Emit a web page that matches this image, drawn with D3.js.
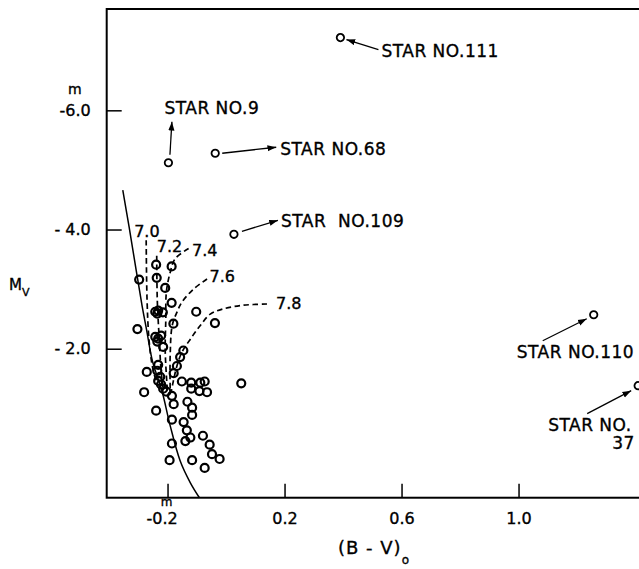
<!DOCTYPE html>
<html>
<head>
<meta charset="utf-8">
<script src="https://cdn.jsdelivr.net/npm/d3@7"></script>
<style>
  body { margin: 0; background: #fff; }
  svg { display: block; font-family: "DejaVu Sans", sans-serif; }
  text { fill: #000; stroke: #000; stroke-width: 0.35px; }
</style>
</head>
<body>
<svg id="chart" width="639" height="569"></svg>
<script>
// colour index (B-V)o and absolute magnitude Mv of the cluster stars
const bvValues = [
  -0.297, -0.239, -0.186, -0.237, -0.208, -0.186, -0.242, -0.235, -0.232, -0.216,
  -0.102, -0.038, -0.180, -0.303, -0.242, -0.232, -0.222, -0.235, -0.215, -0.146,
  -0.157, -0.168, -0.179, -0.271, -0.235, -0.225, -0.232, -0.280, -0.232, -0.222,
  -0.215, -0.151, -0.119, -0.088, -0.073, -0.119, -0.091, -0.065, 0.052, -0.204,
  -0.185, -0.179, -0.132, -0.116, -0.116, -0.239, -0.185, -0.145, -0.134, -0.122,
  -0.139, -0.185, -0.079, -0.056, -0.048, -0.022, -0.116, -0.193, -0.073
];
const mvValues = [
  -3.16, -3.41, -3.38, -3.19, -3.02, -2.77, -2.62, -2.59, -2.64, -2.61,
  -2.62, -2.43, -2.42, -2.33, -2.20, -2.17, -2.22, -2.12, -2.03, -1.97,
  -1.86, -1.71, -1.59, -1.61, -1.63, -1.53, -1.73, -1.27, -1.46, -1.40,
  -1.33, -1.45, -1.43, -1.43, -1.45, -1.33, -1.29, -1.27, -1.42, -1.28,
  -1.21, -1.07, -1.11, -1.01, -0.89, -0.96, -0.81, -0.77, -0.63, -0.51,
  -0.45, -0.41, -0.54, -0.39, -0.23, -0.15, -0.13, -0.13, 0.00
];

// individually labelled stars
const starNames = ["STAR NO.111", "STAR NO.9", "STAR NO.68", "STAR  NO.109", "STAR NO.110", "STAR NO.\n37"];
const starBV = [0.391, -0.197, -0.037, 0.027, 1.257, 1.409];
const starMV = [-7.22, -5.12, -5.28, -3.92, -2.57, -1.38];

// zero-age main sequence
const zamsBV = [-0.353, -0.331, -0.307, -0.287, -0.271, -0.252, -0.219, -0.191, -0.157, -0.122, -0.091];
const zamsMV = [-4.66, -4.03, -3.31, -2.72, -2.30, -1.80, -1.29, -0.71, -0.12, 0.25, 0.50];

// isochrones, log age
const isoLabels = ["7.0", "7.2", "7.4", "7.6", "7.8"];
const iso70 = [[-0.273, -3.82], [-0.270, -2.81], [-0.263, -2.13], [-0.252, -1.71], [-0.235, -1.38]];
const iso72 = [[-0.237, -3.56], [-0.235, -2.81], [-0.228, -2.13], [-0.222, -1.63], [-0.215, -1.33]];
const iso74 = [[-0.128, -3.68], [-0.174, -3.51], [-0.191, -3.28], [-0.204, -2.95], [-0.206, -2.47], [-0.208, -1.97], [-0.201, -1.33]];
const iso76 = [[-0.065, -3.17], [-0.111, -3.00], [-0.151, -2.78], [-0.168, -2.61], [-0.184, -2.39], [-0.191, -1.88], [-0.191, -1.33]];
const iso78 = [[0.140, -2.75], [0.060, -2.73], [-0.008, -2.67], [-0.054, -2.58], [-0.088, -2.39], [-0.122, -2.16], [-0.151, -1.94], [-0.168, -1.71], [-0.180, -1.46], [-0.187, -1.29]];

// axes
const xTicks = [-0.2, 0.2, 0.6, 1.0];
const xTickLabels = ["-0.2", "0.2", "0.6", "1.0"];
const yTicks = [-6.0, -4.0, -2.0];
const yTickLabels = ["-6.0", "- 4.0", "- 2.0"];
const xExtent = [-0.408, 1.47];
const yExtent = [-7.7, 0.5];

const margin = { top: 9, left: 106.7 };
const width = (xExtent[1] - xExtent[0]) * 292.5;
const height = (yExtent[1] - yExtent[0]) * 59.6;

const svg = d3.select('#chart');

const x = d3.scaleLinear().domain(xExtent).range([0, width]);
const y = d3.scaleLinear().domain(yExtent).range([0, height]);

svg.append('defs').append('marker')
    .attr('id', 'head')
    .attr('viewBox', '0 -4 10 8')
    .attr('refX', 10)
    .attr('refY', 0)
    .attr('markerUnits', 'userSpaceOnUse')
    .attr('markerWidth', 9)
    .attr('markerHeight', 7)
    .attr('orient', 'auto')
  .append('path')
    .attr('d', 'M0,-3.5L10,0L0,3.5Z')
    .attr('fill', '#000');

const chart = svg.append('g')
    .attr('transform', `translate(${margin.left},${margin.top})`);

// frame
chart.append('rect')
    .attr('width', width)
    .attr('height', height)
    .attr('fill', 'none')
    .attr('stroke', '#000')
    .attr('stroke-width', 2);

// axes with inward ticks
const xAxisG = chart.append('g')
    .attr('transform', `translate(0,${height})`)
    .call(d3.axisBottom(x)
      .tickValues(xTicks)
      .tickSizeInner(-14)
      .tickSizeOuter(0)
      .tickPadding(15)
      .tickFormat((d, i) => xTickLabels[i]));

const yAxisG = chart.append('g')
    .call(d3.axisLeft(y)
      .tickValues(yTicks)
      .tickSizeInner(-15)
      .tickSizeOuter(0)
      .tickPadding(16)
      .tickFormat((d, i) => yTickLabels[i]));

[xAxisG, yAxisG].forEach(g => {
  g.select('.domain').remove();
  g.attr('font-family', '"DejaVu Sans", sans-serif').attr('font-size', 16);
  g.selectAll('line').attr('stroke', '#000').attr('stroke-width', 1.5);
});
xAxisG.selectAll('text').attr('dx', (d) => d < 0 ? -6 : 0);

// magnitude superscripts
chart.append('text')
    .attr('x', x(-0.2) - 1)
    .attr('y', height + 8)
    .attr('text-anchor', 'middle')
    .attr('font-size', 12)
    .text('m');
chart.append('text')
    .attr('x', -32)
    .attr('y', y(-6) - 16)
    .attr('text-anchor', 'middle')
    .attr('font-size', 14)
    .text('m');

// axis titles
const xTitle = svg.append('text')
    .attr('x', 338)
    .attr('y', 554)
    .attr('font-size', 18)
    .attr('letter-spacing', 1);
xTitle.append('tspan').text('(B - V)');
xTitle.append('tspan').attr('font-size', 12).attr('dy', 10).text('o');

const yTitle = svg.append('text')
    .attr('x', 9)
    .attr('y', 290)
    .attr('font-size', 15);
yTitle.append('tspan').text('M');
yTitle.append('tspan').attr('font-size', 11).attr('dy', 6).text('V');

// zero-age main sequence
const zams = zamsBV.map((d, i) => [d, zamsMV[i]]);
chart.append('path')
    .datum(zams)
    .attr('d', d3.line().x(d => x(d[0])).y(d => y(d[1])).curve(d3.curveCatmullRom))
    .attr('fill', 'none')
    .attr('stroke', '#000')
    .attr('stroke-width', 1.5);

// isochrones
const isochrones = [iso70, iso72, iso74, iso76, iso78];
const isoLabelOffsets = [[-12, -3], [0, -4], [3.5, 7.5], [2.5, 3.5], [9, 5]];
const isoLine = d3.line().x(d => x(d[0])).y(d => y(d[1])).curve(d3.curveCatmullRom);

chart.selectAll('.iso')
    .data(isochrones)
  .join('path')
    .attr('class', 'iso')
    .attr('d', isoLine)
    .attr('fill', 'none')
    .attr('stroke', '#000')
    .attr('stroke-width', 1.7)
    .attr('stroke-dasharray', '5.5,3.5');

chart.selectAll('.iso-label')
    .data(isochrones)
  .join('text')
    .attr('class', 'iso-label')
    .attr('x', (d, i) => x(d[0][0]) + isoLabelOffsets[i][0])
    .attr('y', (d, i) => y(d[0][1]) + isoLabelOffsets[i][1])
    .attr('font-size', 16)
    .text((d, i) => isoLabels[i]);

// cluster stars
const stars = bvValues.map((d, i) => ({ bv: d, mv: mvValues[i] }));
chart.selectAll('.star')
    .data(stars)
  .join('circle')
    .attr('class', 'star')
    .attr('cx', d => x(d.bv))
    .attr('cy', d => y(d.mv))
    .attr('r', 4)
    .attr('fill', 'none')
    .attr('stroke', '#000')
    .attr('stroke-width', 2.2);

// labelled stars: text offset, arrow start, arrow end (pixels from the star)
const callouts = [
  { text: [41, 19], from: [38, 12], to: [6, 2] },
  { text: [-4, -49], from: [1.5, -8], to: [3.5, -41] },
  { text: [65, 2], from: [7, 0], to: [61, -6] },
  { text: [47, -7], from: [8, -3], to: [44, -14] },
  { text: [-77, 43], from: [-51, 26], to: [-7, 4] },
  { text: [-90, 45], from: [-51, 28], to: [-7, 5] }
];

const named = starNames.map((name, i) => ({
  name, bv: starBV[i], mv: starMV[i], c: callouts[i]
}));

const ng = chart.selectAll('.named')
    .data(named)
  .join('g')
    .attr('class', 'named')
    .attr('transform', d => `translate(${x(d.bv)},${y(d.mv)})`);

ng.append('circle')
    .attr('r', 3.7)
    .attr('fill', 'none')
    .attr('stroke', '#000')
    .attr('stroke-width', 1.8);

ng.append('line')
    .attr('x1', d => d.c.from[0])
    .attr('y1', d => d.c.from[1])
    .attr('x2', d => d.c.to[0])
    .attr('y2', d => d.c.to[1])
    .attr('stroke', '#000')
    .attr('stroke-width', 1.3)
    .attr('marker-end', 'url(#head)');

ng.append('text')
    .attr('x', d => d.c.text[0])
    .attr('y', d => d.c.text[1])
    .attr('font-size', 17)
    .attr('letter-spacing', 0.5)
    .style('white-space', 'pre')
    .each(function(d) {
      const lines = d.name.split('\n');
      const t = d3.select(this);
      t.append('tspan').text(lines[0]);
      if (lines[1]) {
        t.append('tspan')
            .attr('x', d.c.text[0] + 64)
            .attr('dy', 18)
            .text(lines[1]);
      }
    });
</script>
</body>
</html>
